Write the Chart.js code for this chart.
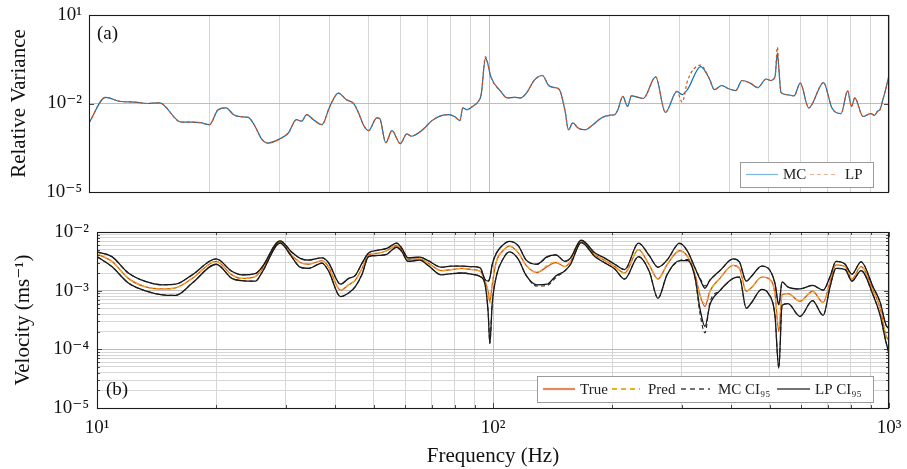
<!DOCTYPE html>
<html><head><meta charset="utf-8">
<script src="https://cdn.jsdelivr.net/npm/chart.js@4.4.0/dist/chart.umd.min.js"></script>
<style>
html,body{margin:0;padding:0;background:#fff;}
#wrap{position:relative;width:907px;height:469px;overflow:hidden;background:#fff;}
#ca{position:absolute;left:0;top:0;}
#cb{position:absolute;left:0;top:200px;}
</style></head><body>
<div id="wrap"><canvas id="ca" width="907" height="200"></canvas><canvas id="cb" width="907" height="269"></canvas></div>
<script>
// ---------- Panel (a): relative variance ----------
const freqA = [10,11,12,13,14,15,17,18,19,20,21,22,23,24,25,26,27,28,30,31.5,33,34,35,36.4,38.2,40,42,44,46,47.6,48.5,50,52.4,53.3,55.2,57.2,60,62.3,64,66.6,69,72,76,79,82,84.6,86,88,91,94,95.6,98,99,101,107,111,116,120,124,130,136,141,146,150,155,158,162,167,174,180,191,200,206,210,216,222,227,243,261,276,295,304,314,338,355,366,382,397,414,429,450,470,493,506,519,526,530,537,556,579,600,630,686,720,759,788,806,821,861,901,920,935,950,965,980,1000];
const varMC = [2.19e-3,1.62e-2,1.17e-2,1.12e-2,1.0e-2,1.05e-2,2.34e-3,2.34e-3,2.24e-3,1.91e-3,6.03e-3,7.08e-3,4.17e-3,3.55e-3,3.39e-3,1.70e-3,6.31e-4,4.57e-4,6.31e-4,1.0e-3,2.82e-3,2.51e-3,4.17e-3,2.82e-3,1.91e-3,7.94e-3,2.24e-2,1.35e-2,9.55e-3,3.63e-3,1.91e-3,1.20e-3,3.24e-3,3.09e-3,4.68e-4,1.20e-3,4.37e-4,9.33e-4,7.76e-4,1.0e-3,1.48e-3,2.63e-3,3.89e-3,4.17e-3,3.63e-3,2.63e-3,7.08e-3,6.17e-3,7.94e-3,1.17e-2,2.0e-2,3.47e-1,2.63e-1,8.32e-2,2.57e-2,1.55e-2,1.62e-2,1.55e-2,2.24e-2,6.31e-2,8.91e-2,4.07e-2,3.47e-2,2.95e-2,5.37e-3,1.29e-3,2.19e-3,1.48e-3,1.29e-3,1.70e-3,3.24e-3,3.98e-3,4.17e-3,6.17e-3,1.74e-2,7.94e-3,1.82e-2,1.48e-2,7.94e-2,5.01e-3,2.57e-2,2.0e-2,3.09e-2,1.78e-1,7.24e-2,2.95e-2,4.07e-2,3.16e-2,2.75e-2,6.03e-2,4.90e-2,3.47e-2,6.76e-2,6.03e-2,8.32e-2,5.13e-1,1.78e-1,2.40e-2,2.0e-2,1.82e-2,4.90e-2,7.08e-3,5.13e-2,7.08e-3,4.57e-3,2.69e-2,7.94e-3,1.55e-2,3.63e-3,4.57e-3,3.98e-3,5.37e-3,6.31e-3,1.32e-2,2.82e-2,8.91e-2];
const varLP = [2.19e-3,1.62e-2,1.17e-2,1.12e-2,1.0e-2,1.05e-2,2.34e-3,2.34e-3,2.24e-3,1.91e-3,6.03e-3,7.08e-3,4.17e-3,3.55e-3,3.39e-3,1.70e-3,6.31e-4,4.57e-4,6.31e-4,1.0e-3,2.82e-3,2.51e-3,4.17e-3,2.82e-3,1.91e-3,7.94e-3,2.24e-2,1.35e-2,9.55e-3,3.63e-3,1.91e-3,1.20e-3,3.24e-3,3.09e-3,4.68e-4,1.20e-3,4.37e-4,9.33e-4,7.76e-4,1.0e-3,1.48e-3,2.63e-3,3.89e-3,4.17e-3,3.63e-3,2.63e-3,7.08e-3,6.17e-3,7.94e-3,1.17e-2,2.0e-2,3.89e-1,2.63e-1,8.32e-2,2.57e-2,1.55e-2,1.62e-2,1.55e-2,2.24e-2,6.31e-2,8.91e-2,4.07e-2,3.47e-2,2.95e-2,5.37e-3,1.29e-3,2.19e-3,1.48e-3,1.29e-3,1.70e-3,3.24e-3,3.98e-3,4.17e-3,6.17e-3,1.74e-2,7.94e-3,1.82e-2,1.48e-2,7.94e-2,5.01e-3,2.57e-2,1.12e-2,6.31e-2,2.0e-1,7.24e-2,2.95e-2,4.07e-2,3.16e-2,2.75e-2,6.03e-2,4.90e-2,3.47e-2,6.76e-2,6.03e-2,8.32e-2,8.13e-1,1.78e-1,2.40e-2,2.0e-2,1.82e-2,4.90e-2,7.08e-3,5.13e-2,7.08e-3,4.57e-3,2.69e-2,7.94e-3,1.55e-2,3.63e-3,4.57e-3,3.98e-3,5.37e-3,6.31e-3,1.32e-2,2.82e-2,8.91e-2];

// ---------- Panel (b): velocity ----------
const freqB = [10,10.9,12,13.2,14.6,15.8,17.4,20,21.9,23.2,25.1,26.1,29,31,32.6,34.2,37,38.4,41.2,43.2,44.9,46.7,48.5,51.3,53.9,57.1,58.8,61,65.4,68.6,74.1,78.6,83.3,88.2,92.8,95.3,97.2,98.2,99.5,102,106,110,116,121,129,137,144,152,157,167,181,192,203,215,233,248,261,275,296,310,324,333,343,353,374,404,419,436,449,477,496,515,527,537,556,596,641,682,710,735,775,806,850,911,950,982,1000];
const velTrue = [4.21e-3,3.16e-3,1.62e-3,1.17e-3,1.07e-3,1.12e-3,1.62e-3,3.16e-3,1.86e-3,1.62e-3,1.74e-3,2.29e-3,6.76e-3,4.07e-3,3.02e-3,2.82e-3,3.24e-3,2.57e-3,1.02e-3,1.26e-3,1.51e-3,2.40e-3,4.07e-3,4.37e-3,4.79e-3,5.89e-3,5.01e-3,3.39e-3,3.47e-3,2.95e-3,2.19e-3,2.29e-3,2.40e-3,2.29e-3,2.14e-3,1.51e-3,9.77e-4,6.31e-4,1.26e-3,3.16e-3,4.79e-3,5.75e-3,4.37e-3,2.75e-3,2.04e-3,2.57e-3,3.02e-3,2.57e-3,3.16e-3,6.76e-3,4.07e-3,3.24e-3,2.57e-3,2.0e-3,5.01e-3,2.75e-3,1.58e-3,2.75e-3,4.79e-3,3.80e-3,1.86e-3,8.51e-4,5.37e-4,9.77e-4,1.62e-3,2.69e-3,2.40e-3,9.77e-4,1.12e-3,1.70e-3,1.62e-3,9.12e-4,2.0e-4,8.51e-4,8.91e-4,6.61e-4,9.77e-4,6.31e-4,1.41e-3,2.75e-3,2.57e-3,1.58e-3,2.57e-3,1.02e-3,5.01e-4,1.74e-4,1.41e-4];
const velPred = [4.21e-3,3.16e-3,1.62e-3,1.17e-3,1.07e-3,1.12e-3,1.62e-3,3.16e-3,1.86e-3,1.62e-3,1.74e-3,2.29e-3,6.76e-3,4.07e-3,3.02e-3,2.82e-3,3.24e-3,2.57e-3,1.02e-3,1.26e-3,1.51e-3,2.40e-3,4.07e-3,4.37e-3,4.79e-3,5.89e-3,5.01e-3,3.39e-3,3.47e-3,2.95e-3,2.19e-3,2.29e-3,2.40e-3,2.29e-3,2.14e-3,1.51e-3,9.77e-4,6.31e-4,1.26e-3,3.16e-3,4.79e-3,5.75e-3,4.37e-3,2.75e-3,2.04e-3,2.69e-3,3.09e-3,2.57e-3,3.16e-3,6.76e-3,4.07e-3,3.24e-3,2.57e-3,2.0e-3,5.01e-3,2.75e-3,1.58e-3,2.75e-3,4.79e-3,3.80e-3,1.86e-3,8.51e-4,6.03e-4,9.77e-4,1.62e-3,2.69e-3,2.40e-3,9.77e-4,1.12e-3,1.70e-3,1.62e-3,9.12e-4,2.40e-4,8.51e-4,8.91e-4,6.61e-4,9.77e-4,6.31e-4,1.41e-3,2.75e-3,2.57e-3,1.58e-3,2.57e-3,1.02e-3,5.01e-4,1.74e-4,1.58e-4];
const lpUpper = [4.57e-3,3.80e-3,2.0e-3,1.45e-3,1.26e-3,1.29e-3,1.86e-3,3.47e-3,2.14e-3,1.86e-3,1.95e-3,2.51e-3,7.08e-3,4.57e-3,3.55e-3,3.31e-3,3.63e-3,3.02e-3,1.29e-3,1.62e-3,1.82e-3,2.95e-3,4.37e-3,4.90e-3,5.25e-3,6.46e-3,5.37e-3,3.63e-3,3.72e-3,3.24e-3,2.51e-3,2.63e-3,2.63e-3,2.57e-3,2.45e-3,1.58e-3,1.45e-3,1.66e-3,2.75e-3,4.37e-3,6.03e-3,6.92e-3,5.75e-3,3.39e-3,2.82e-3,3.80e-3,4.07e-3,3.16e-3,3.63e-3,7.24e-3,4.37e-3,3.55e-3,2.82e-3,2.29e-3,6.46e-3,3.98e-3,2.51e-3,3.31e-3,6.46e-3,4.68e-3,2.40e-3,1.58e-3,1.10e-3,1.51e-3,2.19e-3,3.47e-3,3.09e-3,1.45e-3,1.74e-3,2.63e-3,2.40e-3,1.35e-3,5.75e-4,1.41e-3,1.15e-3,1.07e-3,1.23e-3,1.02e-3,1.74e-3,3.16e-3,2.82e-3,1.91e-3,3.09e-3,1.17e-3,6.31e-4,2.63e-4,2.24e-4];
const lpLower = [3.80e-3,2.57e-3,1.35e-3,1.0e-3,8.51e-4,8.32e-4,1.35e-3,2.82e-3,1.62e-3,1.48e-3,1.45e-3,2.04e-3,6.46e-3,3.80e-3,2.51e-3,2.40e-3,2.95e-3,2.19e-3,7.94e-4,9.12e-4,1.17e-3,1.91e-3,3.80e-3,3.98e-3,4.17e-3,5.50e-3,4.68e-3,3.16e-3,3.31e-3,2.69e-3,1.86e-3,1.95e-3,2.0e-3,1.91e-3,1.74e-3,1.35e-3,4.37e-4,1.26e-4,5.75e-4,1.78e-3,3.47e-3,4.57e-3,3.39e-3,1.86e-3,1.26e-3,1.29e-3,1.78e-3,2.19e-3,2.82e-3,6.61e-3,3.80e-3,2.95e-3,2.34e-3,1.58e-3,3.80e-3,2.14e-3,7.41e-4,1.86e-3,3.24e-3,3.24e-3,1.62e-3,5.01e-4,2.45e-4,5.75e-4,1.0e-3,1.62e-3,1.70e-3,5.01e-4,6.17e-4,1.05e-3,8.91e-4,3.89e-4,4.79e-5,5.62e-4,6.03e-4,3.63e-4,6.76e-4,3.80e-4,1.17e-3,2.40e-3,2.29e-3,1.45e-3,2.19e-3,8.51e-4,3.80e-4,1.35e-4,8.51e-5];
const mcUpper = [4.57e-3,3.80e-3,2.0e-3,1.45e-3,1.26e-3,1.29e-3,1.86e-3,3.47e-3,2.14e-3,1.86e-3,1.95e-3,2.51e-3,7.08e-3,4.57e-3,3.55e-3,3.31e-3,3.63e-3,3.02e-3,1.29e-3,1.62e-3,1.82e-3,2.95e-3,4.37e-3,4.90e-3,5.25e-3,6.46e-3,5.37e-3,3.63e-3,3.72e-3,3.24e-3,2.51e-3,2.63e-3,2.63e-3,2.57e-3,2.45e-3,1.58e-3,1.45e-3,1.66e-3,2.75e-3,4.37e-3,6.03e-3,6.92e-3,5.75e-3,3.39e-3,2.82e-3,3.72e-3,4.07e-3,3.16e-3,3.63e-3,7.24e-3,4.37e-3,3.55e-3,2.82e-3,2.29e-3,6.46e-3,3.98e-3,2.51e-3,3.31e-3,6.31e-3,4.68e-3,2.40e-3,1.66e-3,1.20e-3,1.51e-3,2.19e-3,3.47e-3,3.09e-3,1.45e-3,1.74e-3,2.63e-3,2.40e-3,1.35e-3,5.75e-4,1.41e-3,1.15e-3,1.07e-3,1.23e-3,1.02e-3,1.74e-3,3.16e-3,2.82e-3,1.91e-3,3.09e-3,1.17e-3,6.31e-4,2.63e-4,2.24e-4];
const mcLower = [3.80e-3,2.57e-3,1.35e-3,1.0e-3,8.51e-4,8.32e-4,1.35e-3,2.82e-3,1.62e-3,1.48e-3,1.45e-3,2.04e-3,6.46e-3,3.80e-3,2.51e-3,2.40e-3,2.95e-3,2.19e-3,7.94e-4,9.12e-4,1.17e-3,1.91e-3,3.80e-3,3.98e-3,4.17e-3,5.50e-3,4.68e-3,3.16e-3,3.31e-3,2.69e-3,1.86e-3,1.95e-3,2.0e-3,1.91e-3,1.74e-3,1.35e-3,4.37e-4,1.26e-4,5.75e-4,1.78e-3,3.47e-3,4.57e-3,3.39e-3,1.86e-3,1.20e-3,1.23e-3,1.66e-3,2.19e-3,2.82e-3,6.61e-3,3.80e-3,2.95e-3,2.34e-3,1.58e-3,3.80e-3,2.14e-3,7.41e-4,1.86e-3,3.24e-3,3.39e-3,1.62e-3,4.17e-4,1.91e-4,6.31e-4,1.0e-3,1.62e-3,1.70e-3,5.01e-4,6.17e-4,1.05e-3,8.91e-4,3.89e-4,4.79e-5,5.62e-4,6.03e-4,3.63e-4,6.76e-4,3.80e-4,1.17e-3,2.40e-3,2.29e-3,1.45e-3,2.19e-3,8.51e-4,3.80e-4,1.35e-4,8.51e-5];

// ---------- ticks ----------
const xMajor = [10,100,1000];
const xTickLabels = ['10¹','10²','10³'];
const yMajorA = [1e-5,1e-2,10];
const yTickLabelsA = ['10⁻⁵','10⁻²','10¹'];
const yMajorB = [1e-5,1e-4,1e-3,1e-2];
const yTickLabelsB = ['10⁻⁵','10⁻⁴','10⁻³','10⁻²'];

function withMinors(majors){
  const out=[];
  for(let i=0;i<majors.length-1;i++){for(let m=1;m<=9;m++) out.push(m*majors[i]);}
  out.push(majors[majors.length-1]);
  return out;
}
const xTickVals = withMinors(xMajor);
const yTickValsB = withMinors(yMajorB);
function labelFor(v, majors, labels){
  for(let i=0;i<majors.length;i++){ if(Math.abs(Math.log10(v)-Math.log10(majors[i]))<1e-6) return labels[i]; }
  return '';
}
function isMajor(v){ const l=Math.log10(v); return Math.abs(l-Math.round(l))<1e-6; }
function pts(xs,ys){ return xs.map((x,i)=>({x:x,y:ys[i]})); }

const FONT = "'Liberation Serif','DejaVu Serif',serif";
const BLUE='#0072BD', ORANGE='#D95319', YELLOW='#EDB120';

function deco(cfg){
  return {id:'deco_'+cfg.name, afterDraw(chart){
    const ctx=chart.ctx, a=chart.chartArea;
    ctx.save();
    ctx.strokeStyle='#222'; ctx.lineWidth=0.8;
    const ys=chart.scales.y;
    cfg.yTicks.forEach(v=>{
      const p=Math.round(ys.getPixelForValue(v))+0.5, L=isMajor(v)?5:3;
      ctx.beginPath(); ctx.moveTo(a.left,p); ctx.lineTo(a.left+L,p); ctx.moveTo(a.right,p); ctx.lineTo(a.right-L,p); ctx.stroke();
    });
    if(cfg.xTicksInward){
      const xs=chart.scales.x;
      xTickVals.forEach(v=>{
        const p=Math.round(xs.getPixelForValue(v))+0.5, L=isMajor(v)?5:3;
        ctx.beginPath(); ctx.moveTo(p,a.bottom); ctx.lineTo(p,a.bottom-L); ctx.moveTo(p,a.top); ctx.lineTo(p,a.top+L); ctx.stroke();
      });
    }
    ctx.strokeStyle='#1a1a1a'; ctx.lineWidth=1.1;
    ctx.strokeRect(a.left+0.5,a.top+0.5,a.right-a.left-1,a.bottom-a.top);
    ctx.fillStyle='#111'; ctx.font='19px '+FONT; ctx.textBaseline='middle'; ctx.textAlign='left';
    ctx.fillText(cfg.label, cfg.labelX, cfg.labelY);
    const L=cfg.legend;
    ctx.fillStyle='#fff'; ctx.fillRect(L.x,L.y,L.w,L.h);
    ctx.strokeStyle='#9a9a9a'; ctx.lineWidth=1; ctx.strokeRect(L.x+0.5,L.y+0.5,L.w,L.h);
    const cy=L.y+L.h/2;
    L.items.forEach(it=>{
      ctx.beginPath(); ctx.setLineDash(it.dash||[]); ctx.strokeStyle=it.color; ctx.lineWidth=it.width;
      ctx.moveTo(it.x1,cy); ctx.lineTo(it.x2,cy); ctx.stroke(); ctx.setLineDash([]);
      ctx.fillStyle='#222'; ctx.font='15px '+FONT; ctx.textBaseline='middle';
      ctx.fillText(it.text,it.tx,cy+1);
    });
    ctx.restore();
  }};
}

function xScale(showLabels, h){
  return {type:'logarithmic',min:10,max:1000,
    afterBuildTicks:s=>{s.ticks=xTickVals.map(v=>({value:v}));},
    ticks:{display:showLabels,autoSkip:false,maxRotation:0,padding:9,color:'#111',font:{family:FONT,size:19},
      callback:v=>labelFor(v,xMajor,xTickLabels)},
    grid:{color:ctx=>isMajor(ctx.tick?ctx.tick.value:10)?'#bdbdbd':'#d6d6d6',drawTicks:false,lineWidth:1},
    border:{display:false},
    afterFit:s=>{s.height=h; s.paddingLeft=0; s.paddingRight=0;}
  };
}

// Panel (a)
new Chart(document.getElementById('ca'),{
  type:'line',
  data:{datasets:[
    {label:'LP',data:pts(freqA,varLP),borderColor:ORANGE,borderWidth:1.2,borderDash:[3,2.5],pointRadius:0,cubicInterpolationMode:'monotone',fill:false},
    {label:'MC',data:pts(freqA,varMC),borderColor:BLUE,borderWidth:1.2,pointRadius:0,cubicInterpolationMode:'monotone',fill:false}
  ]},
  options:{responsive:false,animation:false,events:[],
    layout:{padding:{top:15,right:18,left:0,bottom:0}},
    plugins:{legend:{display:false},tooltip:{enabled:false}},
    scales:{
      x:xScale(false,8),
      y:{type:'logarithmic',min:1e-5,max:10,
        afterBuildTicks:s=>{s.ticks=yMajorA.map(v=>({value:v}));},
        ticks:{autoSkip:false,padding:7,color:'#111',font:{family:FONT,size:19},callback:v=>labelFor(v,yMajorA,yTickLabelsA)},
        grid:{color:'#bdbdbd',drawTicks:false},border:{display:false},
        title:{display:true,text:'Relative Variance',color:'#111',font:{family:FONT,size:21},padding:{top:7,bottom:0}},
        afterFit:s=>{s.width=89; s.paddingTop=0; s.paddingBottom=0;}
      }
    }
  },
  plugins:[deco({name:'a',yTicks:yMajorA,xTicksInward:false,label:'(a)',labelX:97,labelY:34,
    legend:{x:740,y:162,w:133,h:25,items:[
      {color:'rgba(0,114,189,0.5)',width:1.2,x1:746,x2:778,text:'MC',tx:783},
      {color:'rgba(217,83,25,0.45)',width:1.2,dash:[4,3],x1:810,x2:838,text:'LP',tx:845}
    ]}})]
});

// Panel (b)
new Chart(document.getElementById('cb'),{
  type:'line',
  data:{datasets:[
    {label:'MC CI95 upper',data:pts(freqB,mcUpper),borderColor:'#222',borderWidth:1.1,borderDash:[4,3],pointRadius:0,cubicInterpolationMode:'monotone',fill:false},
    {label:'MC CI95 lower',data:pts(freqB,mcLower),borderColor:'#222',borderWidth:1.1,borderDash:[4,3],pointRadius:0,cubicInterpolationMode:'monotone',fill:false},
    {label:'LP CI95 upper',data:pts(freqB,lpUpper),borderColor:'#111',borderWidth:1.3,pointRadius:0,cubicInterpolationMode:'monotone',fill:false},
    {label:'LP CI95 lower',data:pts(freqB,lpLower),borderColor:'#111',borderWidth:1.3,pointRadius:0,cubicInterpolationMode:'monotone',fill:false},
    {label:'Pred',data:pts(freqB,velPred),borderColor:YELLOW,borderWidth:1.2,borderDash:[4,3],pointRadius:0,cubicInterpolationMode:'monotone',fill:false},
    {label:'True',data:pts(freqB,velTrue),borderColor:ORANGE,borderWidth:1.3,pointRadius:0,cubicInterpolationMode:'monotone',fill:false}
  ]},
  options:{responsive:false,animation:false,events:[],
    layout:{padding:{top:32,right:18,left:0,bottom:0}},
    plugins:{legend:{display:false},tooltip:{enabled:false}},
    scales:{
      x:Object.assign(xScale(true,61),{title:{display:true,text:'Frequency (Hz)',color:'#111',font:{family:FONT,size:21},padding:{top:0,bottom:0}}}),
      y:{type:'logarithmic',min:1e-5,max:1e-2,
        afterBuildTicks:s=>{s.ticks=yTickValsB.map(v=>({value:v}));},
        ticks:{autoSkip:false,padding:8,color:'#111',font:{family:FONT,size:19},callback:v=>labelFor(v,yMajorB,yTickLabelsB)},
        grid:{color:ctx=>isMajor(ctx.tick?ctx.tick.value:1e-3)?'#bdbdbd':'#d6d6d6',drawTicks:false},border:{display:false},
        title:{display:true,text:'Velocity (ms⁻¹)',color:'#111',font:{family:FONT,size:21},padding:{top:11,bottom:0}},
        afterFit:s=>{s.width=97; s.paddingTop=0; s.paddingBottom=0;}
      }
    }
  },
  plugins:[deco({name:'b',yTicks:yTickValsB,xTicksInward:true,label:'(b)',labelX:106,labelY:190,
    legend:{x:537,y:176,w:336,h:26,items:[
      {color:'rgba(217,83,25,0.7)',width:2.2,x1:543,x2:575,text:'True',tx:580},
      {color:YELLOW,width:2,dash:[5,4],x1:612,x2:640,text:'Pred',tx:648},
      {color:'#444',width:1.5,dash:[5,4],x1:681,x2:710,text:'MC CI₉₅',tx:718},
      {color:'#444',width:1.3,x1:777,x2:810,text:'LP CI₉₅',tx:815}
    ]}})]
});
</script>
</body></html>
